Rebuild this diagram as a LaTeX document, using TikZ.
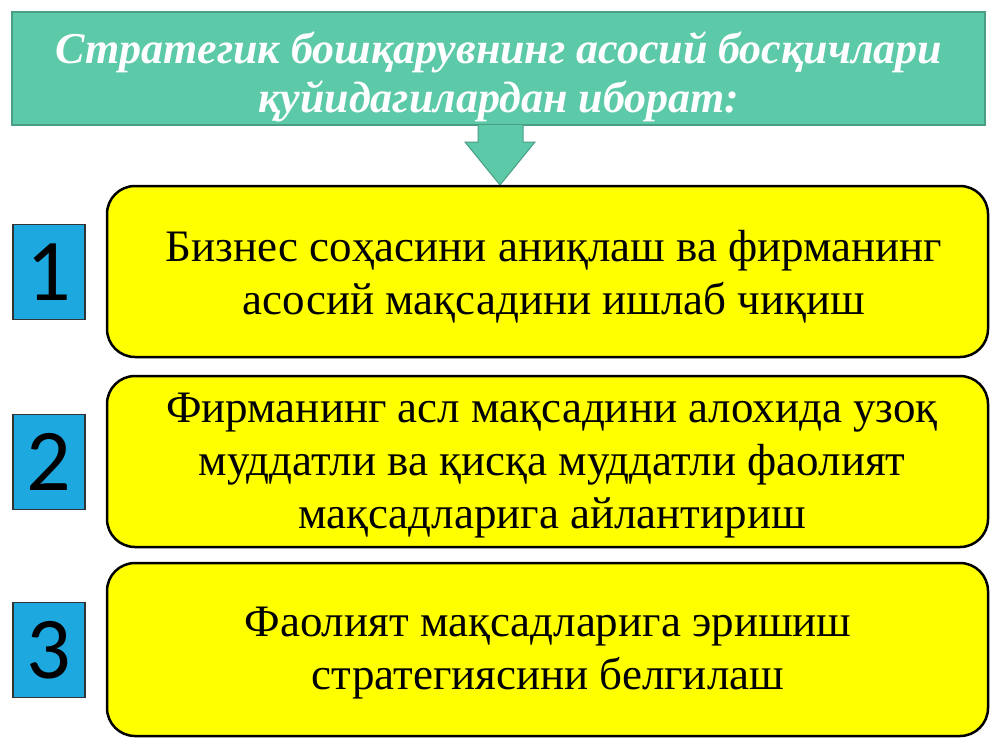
\documentclass[tikz,border=0pt]{standalone}
\usepackage{fontspec}
\setmainfont{Liberation Serif}
\newfontfamily\numfont{Carlito}
\usetikzlibrary{positioning}
\definecolor{teal1}{HTML}{5CC9A8}
\definecolor{teal2}{HTML}{4A9E86}
\definecolor{yel}{HTML}{FFFF00}
\definecolor{blu}{HTML}{1DA8E0}
\begin{document}
\begin{tikzpicture}[x=1pt,y=-1pt,
  titlebox/.style={draw=teal2,line width=1.5pt,fill=teal1},
  stepbox/.style={draw=black,line width=2.5pt,fill=yel,rounded corners=28pt},
  numbox/.style={draw=black!80,line width=1.5pt,fill=blu,minimum width=72pt,minimum height=95pt,inner sep=0pt,font=\numfont\fontsize{88}{88}\selectfont},
  steptext/.style={align=center,font=\fontsize{45}{53}\selectfont,text=black},
  titletext/.style={align=center,font=\bfseries\itshape\fontsize{44}{49}\selectfont,text=white}]
\useasboundingbox (0,0) rectangle (1000,750);
\fill[white] (0,0) rectangle (1000,750);
% title
\draw[titlebox] (12,12) rectangle (985,125);
\node[titletext] (title) at (499,77) {Стратегик бошқарувнинг асосий босқичлари\\ қуйидагилардан иборат:};
% arrow
\draw[draw=teal2,line width=1pt,fill=teal1] (478,125) -- (478,142) -- (465,142) -- (500,185) -- (535,142) -- (523,142) -- (523,125);
\coordinate (tip) at (500,185);
% boxes
\draw[stepbox] (107,186) rectangle (988,357);
\draw[stepbox] (107,376) rectangle (988,547);
\draw[stepbox] (107,563) rectangle (988,736);
\node[steptext] (s1) at (554,277) {Бизнес соҳасини аниқлаш ва фирманинг\\ асосий мақсадини ишлаб чиқиш};
\node[steptext] (s2) at (552,466) {Фирманинг асл мақсадини алохида узоқ\\ муддатли ва қисқа муддатли фаолият\\ мақсадларига айлантириш};
\node[steptext] (s3) at (548,653) {Фаолият мақсадларига эришиш\\ стратегиясини белгилаш};
% numbers
\node[numbox] (n1) at (49,272) {1};
\node[numbox] (n2) at (49,462) {2};
\node[numbox] (n3) at (49,650) {3};
\end{tikzpicture}
\end{document}
